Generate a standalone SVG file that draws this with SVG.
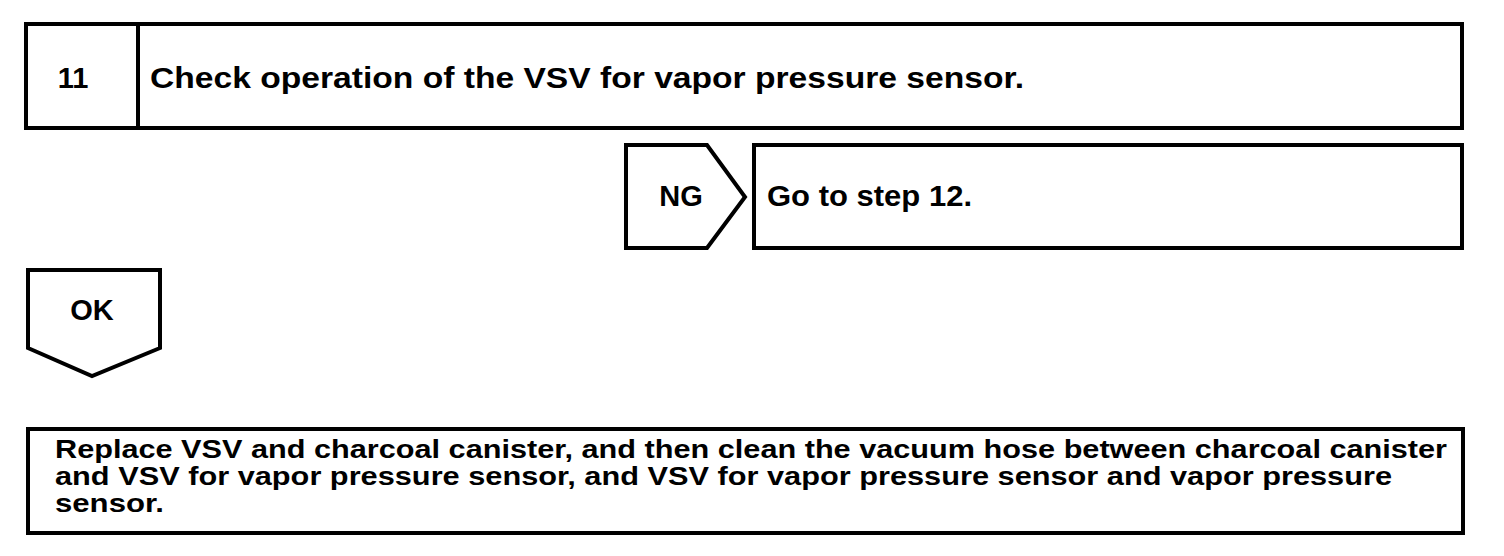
<svg xmlns="http://www.w3.org/2000/svg" width="1504" height="556" viewBox="0 0 1504 556">
<style>
.box{fill:#fff;stroke:#000;stroke-width:4}
.t{font-family:"Liberation Sans",Arial,sans-serif;font-weight:bold;fill:#000}
.big{font-size:29px}
.mid{font-size:26px}
</style>
<rect width="1504" height="556" fill="#fff"/>
<g id="step11">
<rect class="box" x="26" y="24" width="1436" height="104"/>
<line x1="138" y1="24" x2="138" y2="128" stroke="#000" stroke-width="4"/>
<text class="t big" x="73" y="88" text-anchor="middle">11</text>
<text class="t big" x="150" y="88" textLength="874" lengthAdjust="spacingAndGlyphs">Check operation of the VSV for vapor pressure sensor.</text>
</g>
<g id="ng">
<polygon class="box" points="626,145 707,145 745,197 707,248 626,248"/>
<text class="t big" x="681" y="206" text-anchor="middle">NG</text>
</g>
<g id="goto12">
<rect class="box" x="754" y="145" width="708" height="103"/>
<text class="t big" x="767" y="206" textLength="205" lengthAdjust="spacingAndGlyphs">Go to step 12.</text>
</g>
<g id="ok">
<polygon class="box" points="28,270 160,270 160,348 92,376 28,348"/>
<text class="t big" x="92" y="320" text-anchor="middle">OK</text>
</g>
<g id="replace">
<rect class="box" x="28" y="429" width="1435" height="104"/>
<text class="t mid" x="55" y="458" textLength="1392" lengthAdjust="spacingAndGlyphs">Replace VSV and charcoal canister, and then clean the vacuum hose between charcoal canister</text>
<text class="t mid" x="55" y="485" textLength="1337" lengthAdjust="spacingAndGlyphs">and VSV for vapor pressure sensor, and VSV for vapor pressure sensor and vapor pressure</text>
<text class="t mid" x="55" y="512" textLength="109" lengthAdjust="spacingAndGlyphs">sensor.</text>
</g>
<g id="connectors"></g>
</svg>
